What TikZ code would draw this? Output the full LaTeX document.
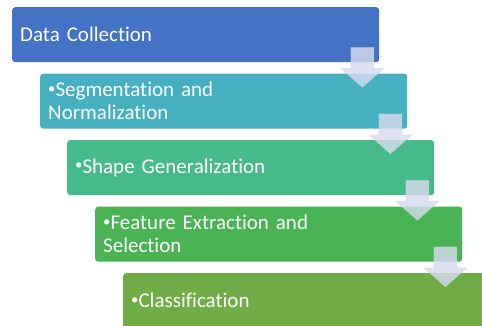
\documentclass[tikz,border=0pt]{standalone}
\usepackage{fontspec}
\setmainfont[Ligatures={NoCommon}]{Carlito}
\usetikzlibrary{calc}
\definecolor{stepA}{HTML}{4472C4}
\definecolor{stepB}{HTML}{46AFC0}
\definecolor{stepC}{HTML}{47BA8B}
\definecolor{stepD}{HTML}{4AB455}
\definecolor{stepE}{HTML}{70AD47}
\definecolor{arrowfill}{HTML}{D6DBEE}
% small list bullet sitting at mid x-height
\newcommand{\stepdot}{\raisebox{0.16em}{\scalebox{0.7}{•}}}
\tikzset{
  stagebox/.style={rectangle, rounded corners=3pt, minimum width=367pt, minimum height=55pt,
    text width=351pt, inner xsep=8pt, inner ysep=0pt, align=left, anchor=north west,
    text=white, font=\fontsize{21pt}{23pt}\selectfont},
  flowarrow/.style={fill=arrowfill, fill opacity=0.82, draw=arrowfill!85!gray, draw opacity=0.5, line width=0.4pt}
}
% block arrow hanging below the right end of a stage box
\newcommand{\blockarrow}[1]{%
  \path[flowarrow]
    ($(#1.south east)+(-28.5,15)$) -- ($(#1.south east)+(-5.5,15)$)
    -- ($(#1.south east)+(-5.5,-6)$) -- ($(#1.south east)+(4.5,-6)$)
    -- ($(#1.south east)+(-17,-25)$) -- ($(#1.south east)+(-38.5,-6)$)
    -- ($(#1.south east)+(-28.5,-6)$) -- cycle;}
\begin{document}
\begin{tikzpicture}[x=1pt,y=1pt]
\useasboundingbox (0,0) rectangle (482,-325);
\node[stagebox, fill=stepA] (s1) at (12,-7) {Data Collection};
\node[stagebox, fill=stepB] (s2) at (40,-73.5) {\stepdot Segmentation and\\Normalization};
\node[stagebox, fill=stepC] (s3) at (67,-140) {\stepdot Shape Generalization};
\node[stagebox, fill=stepD] (s4) at (95,-206.5) {\stepdot Feature Extraction and\\Selection};
\node[stagebox, fill=stepE] (s5) at (123,-273) {\stepdot Classification};
\blockarrow{s1}
\blockarrow{s2}
\blockarrow{s3}
\blockarrow{s4}
\end{tikzpicture}
\end{document}
